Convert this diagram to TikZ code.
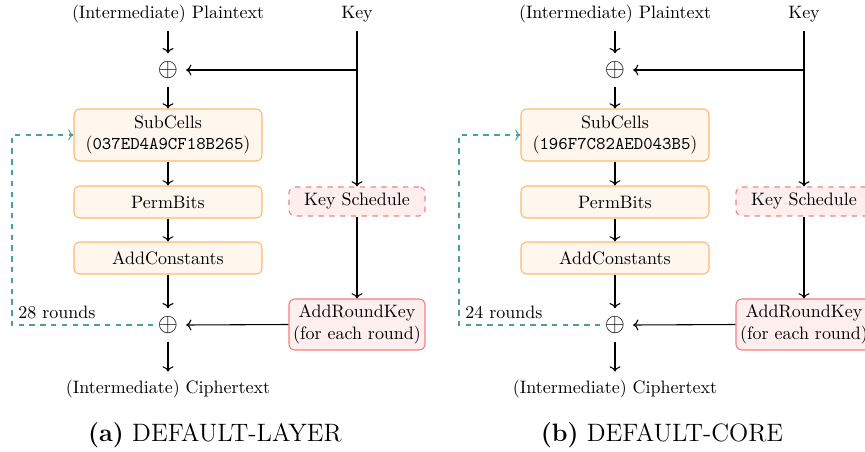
\documentclass[tikz,border=0pt]{standalone}
\usetikzlibrary{arrows.meta}
\definecolor{boxorange}{RGB}{253,184,112}
\definecolor{fillorange}{RGB}{255,247,238}
\definecolor{boxred}{RGB}{244,128,128}
\definecolor{fillred}{RGB}{255,238,238}
\definecolor{loopteal}{RGB}{74,160,160}
\tikzset{
  opbox/.style={draw=boxorange, fill=fillorange, rounded corners=3.3pt, line width=0.6pt, minimum width=104.6pt, align=center, inner sep=2pt},
  ksbox/.style={draw=boxred, fill=fillred, rounded corners=3.3pt, line width=0.6pt, dashed, minimum width=75.7pt, minimum height=16.1pt, align=center, inner sep=2pt},
  arkbox/.style={draw=boxred, fill=fillred, rounded corners=3.3pt, line width=0.6pt, minimum width=75.7pt, minimum height=28.4pt, align=center, inner sep=2pt},
  xorsym/.style={inner sep=0pt, outer sep=4.5pt, font=\Large},
  flow/.style={->, line width=0.6pt},
  loop/.style={->, dashed, loopteal, line width=0.6pt},
  lbl/.style={inner sep=0pt},
  capt/.style={font=\fontsize{14}{17}\selectfont},
}
\begin{document}
\begin{tikzpicture}[x=0.5565pt, y=-0.5565pt]
  \useasboundingbox (0,0) rectangle (865,452);
  \clip (0,0) rectangle (865,452);
  \begin{scope}
    \node[lbl] (apt) at (168,14) {(Intermediate) Plaintext};
    \node[lbl] (akey) at (357,14) {Key};
    \node[xorsym] (ax1) at (168,70) {$\oplus$};
    \coordinate (aj) at (357,70);
    \node[opbox, minimum height=28.9pt] (asc) at (168,135) {SubCells\\(\texttt{037ED4A9CF18B265})};
    \node[opbox, minimum height=17.8pt] (apb) at (168,202) {PermBits};
    \node[opbox, minimum height=17.8pt] (aac) at (168,258) {AddConstants};
    \node[xorsym] (ax2) at (168,325) {$\oplus$};
    \node[ksbox] (aks) at (357,201.5) {Key Schedule};
    \node[arkbox] (aark) at (357,324.5) {AddRoundKey\\(for each round)};
    \node[lbl] (act) at (168,389) {(Intermediate) Ciphertext};
    \coordinate (ac1) at (12,325);
    \coordinate (ac2) at (12,135);
    \node[anchor=west] (ard) at (12,312) {28 rounds};
    \node[capt] (acap) at (215,435) {\textbf{(a)} DEFAULT-LAYER};
    \draw[flow] ([yshift=-4.5pt]apt.south) -- (ax1.north);
    \draw[line width=0.6pt] ([yshift=-5pt]akey.south) -- (aj);
    \draw[flow] (aj) -- (aks.north);
    \draw[flow] (aj) -- (ax1.east);
    \draw[flow] (ax1.south) -- (asc.north);
    \draw[flow] (asc) -- (apb);
    \draw[flow] (apb) -- (aac);
    \draw[flow] (aac.south) -- (ax2.north);
    \draw[flow] (aks) -- (aark);
    \draw[flow] (aark.west) -- (ax2.east);
    \draw[flow] (ax2.south) -- ([yshift=4.5pt]act.north);
    \draw[loop] ([xshift=2pt]ax2.west) -- (ac1) -- (ac2) -- (asc.west);
  \end{scope}
  \begin{scope}[xshift=447*0.5565pt]
    \node[lbl] (bpt) at (168,14) {(Intermediate) Plaintext};
    \node[lbl] (bkey) at (357,14) {Key};
    \node[xorsym] (bx1) at (168,70) {$\oplus$};
    \coordinate (bj) at (357,70);
    \node[opbox, minimum height=28.9pt] (bsc) at (168,135) {SubCells\\(\texttt{196F7C82AED043B5})};
    \node[opbox, minimum height=17.8pt] (bpb) at (168,202) {PermBits};
    \node[opbox, minimum height=17.8pt] (bac) at (168,258) {AddConstants};
    \node[xorsym] (bx2) at (168,325) {$\oplus$};
    \node[ksbox] (bks) at (357,201.5) {Key Schedule};
    \node[arkbox] (bark) at (357,324.5) {AddRoundKey\\(for each round)};
    \node[lbl] (bct) at (168,389) {(Intermediate) Ciphertext};
    \coordinate (bc1) at (12,325);
    \coordinate (bc2) at (12,135);
    \node[anchor=west] (brd) at (12,312) {24 rounds};
    \node[capt] (bcap) at (215,435) {\textbf{(b)} DEFAULT-CORE};
    \draw[flow] ([yshift=-4.5pt]bpt.south) -- (bx1.north);
    \draw[line width=0.6pt] ([yshift=-5pt]bkey.south) -- (bj);
    \draw[flow] (bj) -- (bks.north);
    \draw[flow] (bj) -- (bx1.east);
    \draw[flow] (bx1.south) -- (bsc.north);
    \draw[flow] (bsc) -- (bpb);
    \draw[flow] (bpb) -- (bac);
    \draw[flow] (bac.south) -- (bx2.north);
    \draw[flow] (bks) -- (bark);
    \draw[flow] (bark.west) -- (bx2.east);
    \draw[flow] (bx2.south) -- ([yshift=4.5pt]bct.north);
    \draw[loop] ([xshift=2pt]bx2.west) -- (bc1) -- (bc2) -- (bsc.west);
  \end{scope}
\end{tikzpicture}
\end{document}
